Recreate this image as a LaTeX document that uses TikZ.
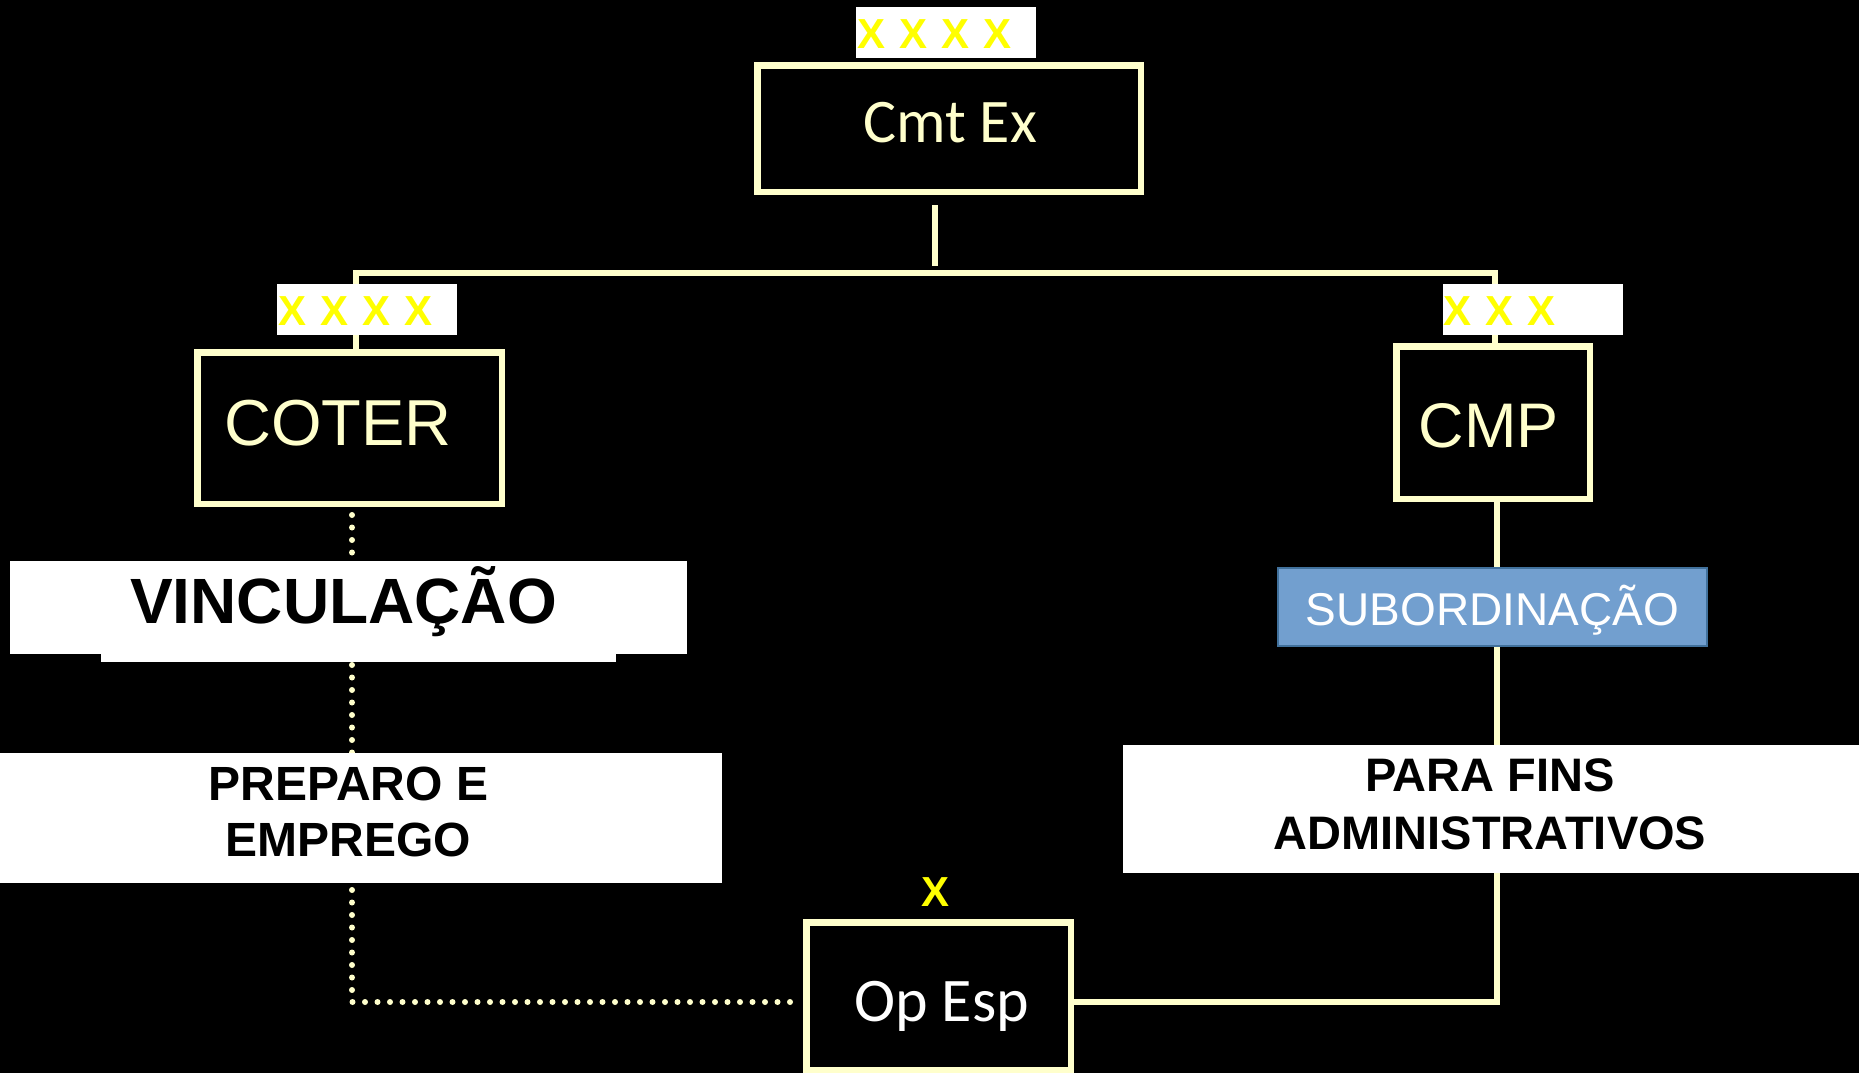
\documentclass[tikz,border=0pt]{standalone}
\usepackage{fontspec}
\setmainfont{Liberation Sans}
\newfontfamily\calibri{Carlito}
\usepackage{tikz}
\usetikzlibrary{arrows}
\definecolor{cream}{RGB}{255,255,204}
\definecolor{subblue}{RGB}{114,159,207}
\definecolor{subedge}{RGB}{65,113,156}
\definecolor{tagyellow}{RGB}{255,255,0}

\begin{document}
\begin{tikzpicture}[line join=miter,x=0.5pt,y=-0.5pt]
\useasboundingbox (0,0) rectangle (1859,1073);
\fill[black] (0,0) rectangle (1859,1073);

\tikzstyle{unitbox}=[rectangle, draw=cream, line width=3.25pt, fill=black, inner sep=0pt];
\tikzstyle{conn}=[draw=cream, line width=3pt];
\tikzstyle{dotconn}=[draw=cream, line width=3pt, line cap=round, dash pattern=on 0pt off 6.25pt];
\tikzstyle{whitebox}=[fill=white, inner sep=0pt];
\tikzstyle{tagbox}=[fill=white, inner xsep=0.5pt, inner ysep=0pt, text width=89pt, align=left, minimum height=25.5pt, text height=15.5pt, text depth=0pt, text=tagyellow, font=\fontsize{21}{21}\selectfont\bfseries];

% unidades
\node[unitbox, minimum width=191.75pt, minimum height=63.25pt] (cmtex) at (949,128.5) {};
\node[unitbox, minimum width=152.25pt, minimum height=75.75pt] (coter) at (349.5,428) {};
\node[unitbox, minimum width=96.75pt, minimum height=76.25pt] (cmp) at (1493,422.5) {};
\node[unitbox, minimum width=132.25pt, minimum height=73.75pt] (opesp) at (938.5,996) {};

\node[anchor=base, text=cream, font=\calibri\fontsize{31}{31}\selectfont] (cmtexT) at (950,142) {Cmt Ex};
\node[anchor=base, text=cream, font=\fontsize{32.5}{32.5}\selectfont] (coterT) at (338,445) {COTER};
\node[anchor=base, text=cream, font=\fontsize{31.5}{31.5}\selectfont] (cmpT) at (1488.5,447) {CMP};
\node[anchor=base, text=white, font=\calibri\fontsize{31}{31}\selectfont] (opespT) at (941.5,1021) {Op Esp};

% ligacoes
\coordinate (busC) at (935,273);
\coordinate (busL) at (356,273);
\coordinate (busR) at (1495,273);
\coordinate (subC) at (1497,1002);
\coordinate (vinc) at (352,1002);

\draw[conn, shorten <=5pt, shorten >=3.5pt] (cmtex.south -| busC) -- (busC);
\draw[conn] (busL |- coter.north) -- (busL) -- (busR) -- (busR |- cmp.north);
\draw[conn] (subC |- cmp.south) -- (subC) -- (opesp.east |- subC);%subordinacao
\draw[dotconn, shorten <=4pt, shorten >=5pt] (vinc |- coter.south) -- (vinc) -- (opesp.west |- vinc);%vinculacao

% rotulos
\node[whitebox, minimum width=257.5pt, minimum height=31pt] (vincB) at (358.5,631) {};
\node[whitebox, minimum width=338.5pt, minimum height=46.5pt] (vincBox) at (348.5,607.5) {};
\node[anchor=base, font=\fontsize{32}{32}\selectfont\bfseries] (vincT) at (343.5,623) {VINCULAÇÃO};

\node[whitebox, minimum width=361pt, minimum height=65pt] (prepBox) at (361,818) {};
\node[align=center, font=\fontsize{24}{28}\selectfont\bfseries] (prepT) at (348.5,811.5) {PREPARO E\\EMPREGO};

\node[fill=subblue, draw=subedge, line width=0.75pt, inner sep=0pt, minimum width=214.5pt, minimum height=39pt] (subBox) at (1492.5,607) {};
\node[anchor=base, text=white, font=\fontsize{23}{23}\selectfont] (subT) at (1492.5,625) {SUBORDINAÇÃO};

\node[whitebox, minimum width=368pt, minimum height=64pt] (admBox) at (1491,809) {};
\node[align=center, font=\fontsize{23.5}{29}\selectfont\bfseries] (admT) at (1490,804) {PARA FINS\\ADMINISTRATIVOS};

% escaloes
\node[tagbox] (cmtexTag) at (946,32.5) {X X X X};
\node[tagbox] (coterTag) at (367,309.5) {X X X X};
\node[tagbox] (cmpTag) at (1532.5,309.5) {X X X};
\node[anchor=base, text=tagyellow, font=\fontsize{21}{21}\selectfont\bfseries] (opespTag) at (935.5,906) {X};
\end{tikzpicture}
\end{document}
